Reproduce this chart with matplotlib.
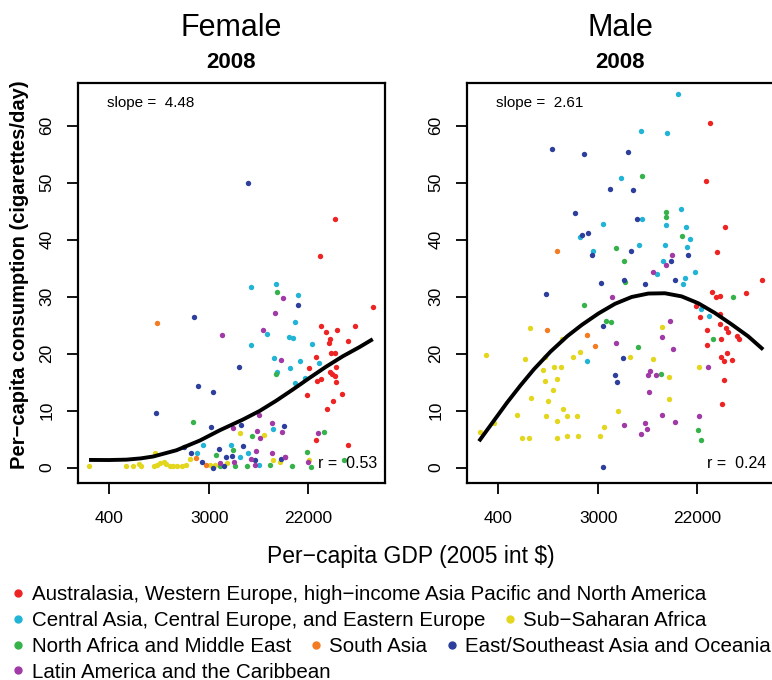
import numpy as np
import matplotlib
matplotlib.use("Agg")
import matplotlib.pyplot as plt
from matplotlib.lines import Line2D

plt.rcParams["font.family"] = ["Liberation Sans", "DejaVu Sans"]

# region labels and colours
regions = [
    "Australasia, Western Europe, high\u2212income Asia Pacific and North America",
    "Central Asia, Central Europe, and Eastern Europe",
    "Sub\u2212Saharan Africa",
    "North Africa and Middle East",
    "South Asia",
    "East/Southeast Asia and Oceania",
    "Latin America and the Caribbean",
]
colors = ["#EE2424", "#22B4D6", "#E3D71E", "#36B24A", "#F37B22", "#2D3F9C", "#A13AA6"]

# ---- Female, 2008 (x = log10 GDP per capita, y = cigarettes/day) ----
f_red_lgdp = [4.576, 4.442, 4.907, 4.457, 4.497, 4.596, 4.756, 4.535, 4.526, 4.695,
              4.413, 4.541, 4.581, 4.349, 4.587, 4.532, 4.547, 4.573, 4.419, 4.457,
              4.590, 4.329, 4.640, 4.564, 4.503, 4.407, 4.689]
f_red_cig = [43.7, 37.2, 28.2, 24.8, 23.8, 24.2, 24.8, 22.5, 21.8, 22.3,
             19.5, 20.1, 20.1, 17.5, 17.7, 16.7, 16.4, 16.0, 15.2, 15.5,
             15.0, 12.7, 13.0, 11.7, 10.2, 4.9, 3.9]
f_cyan_lgdp = [3.846, 4.061, 4.250, 4.224, 3.983, 4.175, 4.207, 3.843, 4.372, 4.047,
               4.271, 4.436, 4.183, 4.073, 4.314, 4.230, 4.032, 3.425, 3.372, 3.672,
               3.745, 3.817, 3.910]
f_cyan_cig = [31.7, 32.3, 30.3, 25.6, 23.5, 22.9, 22.8, 21.5, 21.7, 19.3,
              18.7, 18.4, 17.4, 16.8, 15.8, 14.8, 6.7, 4.0, 2.5, 4.0,
              1.9, 2.6, 0.5]
f_yel_lgdp = [2.428, 2.750, 2.808, 2.867, 2.881, 3.006, 2.994, 3.018, 3.050, 3.082,
              3.099, 3.134, 3.163, 3.198, 3.239, 3.279, 3.314, 3.489, 3.526, 3.634,
              3.747, 3.954, 4.032, 4.093, 4.349]
f_yel_cig = [0.3, 0.2, 0.2, 0.6, 0.2, 2.5, 0.35, 0.5, 0.8, 1.05,
             0.65, 0.35, 0.3, 0.3, 0.3, 0.5, 1.5, 0.5, 0.5, 0.8,
             6.0, 5.7, 1.35, 0.95, 1.35]
f_grn_lgdp = [4.067, 4.061, 3.340, 3.855, 4.477, 3.541, 3.686, 4.335, 4.654, 3.576,
              3.701, 3.811, 4.006, 4.201, 4.370]
f_grn_cig = [30.8, 16.4, 8.0, 5.6, 6.3, 2.2, 3.1, 2.8, 1.35, 0.2,
             0.3, 0.2, 0.5, 0.2, 0.05]
f_org_lgdp = [3.024, 3.361, 3.448]
f_org_cig = [25.4, 1.6, 0.5]
f_blu_lgdp = [3.817, 4.250, 3.343, 3.739, 3.378, 3.512, 3.012, 3.492, 4.131, 3.256,
              3.323, 3.413, 3.512, 3.567, 3.622, 3.678, 3.608, 3.774, 3.875, 4.102,
              3.753]
f_blu_cig = [50.0, 28.6, 26.4, 17.7, 14.3, 13.2, 9.5, 7.1, 7.3, 3.7,
             2.6, 0.9, 0.0, 3.2, 1.8, 2.05, 0.2, 3.8, 1.35, 1.5,
             7.5]
f_pur_lgdp = [4.120, 4.055, 3.948, 3.588, 4.102, 3.913, 4.026, 4.117, 3.898, 3.919,
              3.686, 4.428, 3.884, 3.840, 4.023, 4.140, 4.340, 3.576, 3.692, 3.875,
              4.137]
f_pur_cig = [29.7, 27.2, 24.2, 23.2, 18.8, 9.25, 7.8, 6.2, 6.4, 5.15,
             6.9, 6.0, 2.9, 1.5, 2.5, 1.8, 0.95, 0.75, 0.9, 0.5,
             1.9]
f_fit_lgdp = [2.428, 2.600, 2.756, 2.880, 2.989, 3.192, 3.396, 3.570, 3.774, 3.919,
              4.064, 4.210, 4.355, 4.500, 4.646, 4.791, 4.907]
f_fit_cig = [1.35, 1.33, 1.40, 1.62, 1.95, 3.05, 4.75, 6.55, 8.45, 9.95,
             11.75, 13.72, 15.75, 17.72, 19.55, 21.15, 22.54]

# ---- Male, 2008 ----
m_red_lgdp = [4.457, 4.422, 4.582, 4.518, 4.913, 4.468, 4.503, 4.541, 4.765, 4.332,
              4.364, 4.541, 4.425, 4.541, 4.593, 4.608, 4.689, 4.707, 4.547, 4.428,
              4.547, 4.602, 4.576, 4.646, 4.576, 4.561]
m_red_cig = [60.5, 50.3, 42.2, 37.8, 33.0, 30.8, 29.9, 30.2, 30.6, 28.4,
             26.5, 26.9, 24.2, 25.2, 24.5, 23.8, 23.1, 22.6, 22.5, 21.5,
             19.4, 20.1, 18.7, 18.9, 15.4, 11.2]
m_cyan_lgdp = [3.852, 4.082, 4.178, 3.681, 3.518, 3.864, 4.067, 3.320, 3.835, 4.061,
               3.433, 4.041, 3.992, 3.378, 4.201, 4.245, 4.279, 4.256, 4.320, 4.239,
               4.215, 4.375, 4.448]
m_cyan_cig = [59.1, 58.7, 65.6, 50.9, 42.7, 43.6, 42.5, 40.5, 39.1, 39.0,
              38.1, 36.2, 34.0, 18.7, 45.4, 42.2, 40.1, 38.7, 34.4, 33.2,
              32.2, 27.9, 26.6]
m_yel_lgdp = [2.442, 2.497, 2.881, 2.835, 3.163, 3.009, 2.997, 3.088, 3.152, 3.012,
              3.122, 3.082, 2.893, 3.038, 3.166, 2.765, 3.024, 3.207, 3.122, 2.567,
              2.814, 2.875, 3.122, 3.207, 3.259, 3.320, 3.294, 3.300, 3.495, 3.532,
              3.649, 3.756, 3.960, 4.038, 4.099, 4.096, 4.355]
m_yel_cig = [6.3, 19.8, 24.5, 19.1, 22.6, 19.4, 17.1, 17.7, 17.7, 15.2,
             15.5, 13.6, 12.3, 11.7, 10.2, 9.25, 9.0, 9.0, 8.1, 7.8,
             5.15, 5.15, 5.15, 5.6, 19.4, 20.3, 9.0, 5.6, 5.5, 7.1,
             9.9, 19.4, 19.1, 24.7, 15.9, 12.1, 17.6]
m_grn_lgdp = [3.864, 4.070, 4.073, 3.631, 3.701, 3.715, 3.358, 3.544, 3.590, 3.829,
              4.027, 4.210, 4.660, 4.483, 4.349, 4.378]
m_grn_cig = [51.2, 44.9, 43.9, 38.5, 36.3, 32.6, 28.5, 25.7, 25.5, 21.1,
             16.5, 40.7, 29.9, 22.5, 6.6, 4.9]
m_org_lgdp = [3.114, 3.032, 3.378, 3.454]
m_org_cig = [38.0, 24.2, 23.2, 21.4]
m_blu_lgdp = [3.076, 3.018, 3.355, 3.742, 3.579, 3.779, 3.271, 3.820, 3.393, 3.765,
              3.422, 3.707, 3.503, 3.890, 3.518, 3.692, 3.625, 3.640, 3.518, 4.265,
              4.111, 4.146, 3.335]
m_blu_cig = [56.0, 30.4, 55.0, 55.4, 48.9, 48.8, 44.6, 43.7, 41.1, 38.0,
             37.4, 33.0, 32.4, 32.2, 24.9, 19.3, 16.3, 15.0, 0.06, 37.4,
             36.3, 32.9, 40.8]
m_pur_lgdp = [3.954, 4.073, 4.125, 3.596, 3.631, 4.038, 4.105, 3.931, 3.916, 3.980,
              3.922, 4.032, 3.701, 3.890, 3.901, 3.852, 4.131, 4.439, 4.355, 4.151]
m_pur_cig = [34.4, 35.5, 37.4, 29.9, 21.8, 22.9, 25.7, 16.9, 16.2, 16.3,
             13.2, 9.3, 7.55, 7.8, 6.7, 5.9, 20.8, 17.6, 9.0, 8.0]
m_fit_lgdp = [2.436, 2.567, 2.683, 2.800, 2.916, 3.061, 3.207, 3.335, 3.480, 3.625,
              3.771, 3.916, 4.061, 4.207, 4.352, 4.497, 4.643, 4.788, 4.919]
m_fit_cig = [4.63, 8.25, 11.45, 14.45, 17.25, 20.35, 23.05, 25.05, 27.05, 28.75,
             29.95, 30.55, 30.60, 30.05, 28.85, 27.15, 25.15, 23.05, 20.73]

female = [(f_red_lgdp, f_red_cig), (f_cyan_lgdp, f_cyan_cig), (f_yel_lgdp, f_yel_cig),
          (f_grn_lgdp, f_grn_cig), (f_org_lgdp, f_org_cig), (f_blu_lgdp, f_blu_cig),
          (f_pur_lgdp, f_pur_cig)]
male = [(m_red_lgdp, m_red_cig), (m_cyan_lgdp, m_cyan_cig), (m_yel_lgdp, m_yel_cig),
        (m_grn_lgdp, m_grn_cig), (m_org_lgdp, m_org_cig), (m_blu_lgdp, m_blu_cig),
        (m_pur_lgdp, m_pur_cig)]

panels = [
    ("Female", female, (f_fit_lgdp, f_fit_cig), "slope =  4.48", "r =  0.53"),
    ("Male", male, (m_fit_lgdp, m_fit_cig), "slope =  2.61", "r =  0.24"),
]
xticks = [400, 3000, 22000]
yticks = [0, 10, 20, 30, 40, 50, 60]

W, H = 772, 680
fig = plt.figure(figsize=(W / 100, H / 100), dpi=100)

lefts = [78, 467]
for left, (sex, groups, fit, slope_txt, r_txt) in zip(lefts, panels):
    ax = fig.add_axes([left / W, 1 - 483 / H, 307 / W, 400 / H])
    for (lg, cig), col in zip(groups, colors):
        ax.scatter(10 ** np.array(lg), cig, s=15, color=col, linewidths=0, zorder=2)
    ax.plot(10 ** np.array(fit[0]), fit[1], color="black", lw=2.8,
            solid_capstyle="butt", solid_joinstyle="round", zorder=3)
    ax.set_xscale("log")
    ax.set_xlim(10 ** 2.3315, 10 ** 5.014)
    ax.set_ylim(-2.7, 67.5)
    ax.set_xticks(xticks)
    ax.set_xticklabels([str(t) for t in xticks])
    ax.xaxis.set_minor_locator(matplotlib.ticker.NullLocator())
    ax.set_yticks(yticks)
    ax.set_yticklabels([str(t) for t in yticks], rotation=90, va="center")
    ax.tick_params(axis="both", direction="out", length=8, width=1.3,
                   labelsize=12.5, color="black")
    ax.tick_params(axis="x", pad=12)
    ax.tick_params(axis="y", pad=9)
    for sp in ax.spines.values():
        sp.set_linewidth(1.6)
    ax.text(29 / 307, 1 - 20 / 400, slope_txt, transform=ax.transAxes,
            fontsize=11, ha="left", va="center")
    ax.text(1 - 8 / 307, 1 - 381 / 400, r_txt, transform=ax.transAxes,
            fontsize=11.5, ha="right", va="center")
    cx = (left + 153) / W
    fig.text(cx, 1 - 28 / H, sex, fontsize=22, ha="center", va="center")
    fig.text(cx, 1 - 62 / H, "2008", fontsize=16, fontweight="bold",
             ha="center", va="center")

fig.text(20 / W, 1 - 275 / H, "Per\u2212capita consumption (cigarettes/day)",
         rotation=90, fontsize=14.5, fontweight="bold", ha="center", va="center")
fig.text(411 / W, 1 - 557 / H, "Per\u2212capita GDP (2005 int $)",
         fontsize=16.5, ha="center", va="center")

# legend, laid out in four rows like the original
rows = [[0], [1, 2], [3, 4, 5], [6]]
row_y = [595, 621, 647, 672]
for idx, yy in zip(rows, row_y):
    handles = [Line2D([], [], marker="o", ls="none", color=colors[i], markersize=5)
               for i in idx]
    fig.legend(handles, [regions[i] for i in idx], loc="center left",
               bbox_to_anchor=(12 / W, 1 - yy / H), ncol=len(idx), frameon=False,
               fontsize=14.8, handlelength=0.6, handletextpad=0.35,
               columnspacing=0.9, borderpad=0, borderaxespad=0)

fig.savefig("out.png", dpi=100)
